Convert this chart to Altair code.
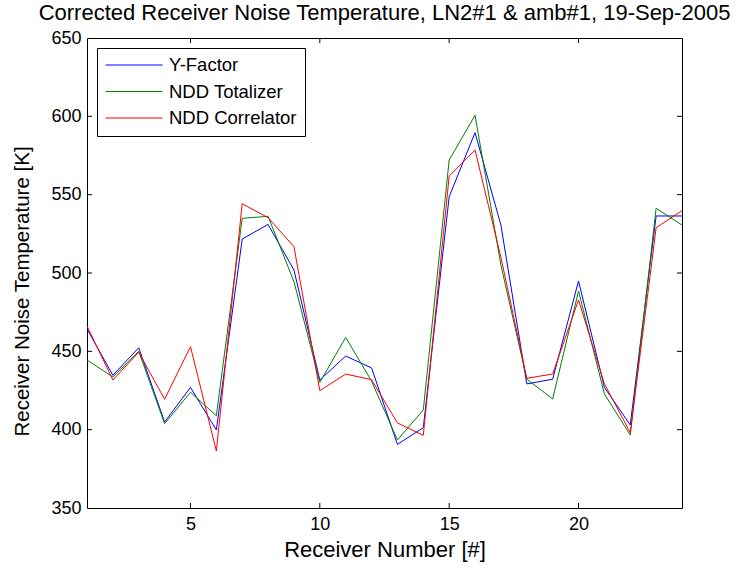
import altair as alt
import pandas as pd

receivers = list(range(1, 25))
y_factor = [464.3, 434.7, 452.3, 404.9, 427.0, 399.8, 521.7, 531.0, 501.9, 431.7, 447.0, 439.4,
            390.6, 401.3, 548.7, 589.6, 530.6, 429.2, 432.2, 494.9, 427.0, 403.0, 536.4, 536.4]
ndd_totalizer = [444.5, 433.6, 450.0, 403.8, 423.9, 408.9, 534.9, 536.2, 494.5, 430.2, 458.9, 431.0,
                 393.4, 412.6, 572.1, 600.7, 505.0, 432.3, 419.6, 488.5, 422.8, 396.6, 541.3, 530.6]
ndd_correlator = [466.2, 431.7, 449.4, 419.4, 453.0, 386.4, 544.2, 535.3, 516.8, 424.9, 435.5, 431.9,
                  404.3, 396.4, 561.9, 578.5, 510.0, 432.8, 435.5, 482.8, 429.2, 398.1, 528.9, 539.8]
series_names = ["Y-Factor", "NDD Totalizer", "NDD Correlator"]
series_colors = ["#0000ff", "#008000", "#ff0000"]
x_ticks = [5, 10, 15, 20]
y_ticks = [400, 450, 500, 550, 600]

rows = []
for name, vals in zip(series_names, [y_factor, ndd_totalizer, ndd_correlator]):
    for r, v in zip(receivers, vals):
        rows.append({"receiver": r, "temp": v, "series": name})
df = pd.DataFrame(rows)

FONT = "Liberation Sans"
W, H = 595, 470

xscale = alt.Scale(domain=[1, 24], nice=False, zero=False)
yscale = alt.Scale(domain=[350, 650], nice=False, zero=False)

lines = alt.Chart(df).mark_line(strokeWidth=1).encode(
    x=alt.X("receiver:Q", scale=xscale,
            axis=alt.Axis(values=x_ticks, title="Receiver Number [#]", ticks=False,
                          labelPadding=7, titlePadding=6, titleFontSize=22, grid=False)),
    y=alt.Y("temp:Q", scale=yscale,
            axis=alt.Axis(values=[350] + y_ticks + [650], title="Receiver Noise Temperature [K]",
                          ticks=False, labelPadding=6, titlePadding=18, titleFontSize=20.5,
                          titleY=253, grid=False)),
    color=alt.Color("series:N", sort=series_names,
                    scale=alt.Scale(domain=series_names, range=series_colors),
                    legend=alt.Legend(title=None, orient="none", legendX=10, legendY=10,
                                      symbolType="stroke", symbolSize=3249, symbolStrokeWidth=1,
                                      clipHeight=18,
                                      labelFontSize=18.5, labelFont=FONT, labelColor="black",
                                      labelOffset=6, padding=8, rowPadding=7.5,
                                      strokeColor="black", fillColor="white", cornerRadius=0)),
    order=alt.Order("receiver:Q"),
)

xt = pd.DataFrame({"v": x_ticks})
yt = pd.DataFrame({"v": y_ticks})
tb = alt.Chart(xt).mark_rule(color="black", strokeWidth=1).encode(
    x=alt.X("v:Q", scale=xscale), y=alt.value(H), y2=alt.value(H - 5))
tt = alt.Chart(xt).mark_rule(color="black", strokeWidth=1).encode(
    x=alt.X("v:Q", scale=xscale), y=alt.value(0), y2=alt.value(5))
tl = alt.Chart(yt).mark_rule(color="black", strokeWidth=1).encode(
    y=alt.Y("v:Q", scale=yscale), x=alt.value(0), x2=alt.value(5))
tr = alt.Chart(yt).mark_rule(color="black", strokeWidth=1).encode(
    y=alt.Y("v:Q", scale=yscale), x=alt.value(W), x2=alt.value(W - 5))

chart = alt.layer(lines, tb, tt, tl, tr).properties(
    width=W, height=H,
    background="white",
    title=alt.Title("Corrected Receiver Noise Temperature, LN2#1 & amb#1, 19-Sep-2005",
                    font=FONT, fontSize=22, fontWeight="normal", color="black",
                    anchor="middle", offset=4),
    padding={"left": 87, "top": 38, "right": 63, "bottom": 61},
    autosize=alt.AutoSizeParams(type="none"),
).configure_view(
    stroke="black", strokeWidth=1
).configure_axis(
    labelFont=FONT, labelFontSize=18, labelColor="black",
    titleFont=FONT, titleFontWeight="normal", titleColor="black",
    domain=False,
)

chart.save("out.html", embed_options={"renderer": "svg", "actions": False})
